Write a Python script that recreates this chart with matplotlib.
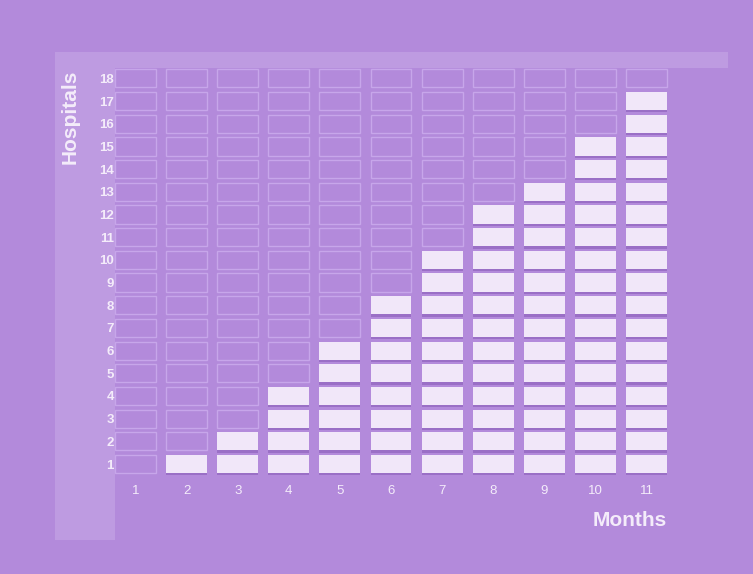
import matplotlib.pyplot as plt
from matplotlib.patches import Rectangle
import numpy as np

# data
months = [1, 2, 3, 4, 5, 6, 7, 8, 9, 10, 11]
hospitals = [0, 1, 2, 4, 6, 8, 10, 12, 13, 15, 17]
rows = list(range(1, 19))
month_labels = [str(m) for m in months]
row_labels = [str(r) for r in rows]

BG = '#B38ADB'
STRIP = '#BE9BE1'
FILLED = '#F1E7F9'
SHADOW = '#9A6FC6'
EMPTY_EDGE = '#C7A6EA'
TEXT = '#F4ECFA'

W, H = 753, 574
fig = plt.figure(figsize=(W / 100, H / 100), dpi=100, facecolor=BG)

# lighter panel strips behind the chart
fig.add_artist(Rectangle((55 / W, 1 - 540 / H), 60 / W, 488 / H,
                         transform=fig.transFigure, color=STRIP, lw=0, zorder=0))
fig.add_artist(Rectangle((55 / W, 1 - 68 / H), 673 / W, 16 / H,
                         transform=fig.transFigure, color=STRIP, lw=0, zorder=0))

ax = fig.add_axes([0.1392, 0.1679, 0.7601, 0.7192])
ax.set_facecolor('none')

cell_w = 0.80
cell_h = 0.80
counts = np.array(hospitals)
for r in rows:
    filled = counts >= r
    x_f = np.array(months)[filled]
    x_e = np.array(months)[~filled]
    # empty slots: outline only
    ax.bar(x_e, cell_h, bottom=r - cell_h / 2, width=cell_w,
           facecolor='none', edgecolor=EMPTY_EDGE, linewidth=1.0, zorder=2)
    # filled slots with a small shadow underneath
    ax.bar(x_f, cell_h, bottom=r - cell_h / 2 - 0.1, width=cell_w,
           color=SHADOW, linewidth=0, zorder=2)
    ax.bar(x_f, cell_h, bottom=r - cell_h / 2, width=cell_w,
           color=FILLED, linewidth=0, zorder=3)

ax.set_xlim(0.4, 11.6)
ax.set_ylim(0.4, 18.6)
ax.set_xticks(months)
ax.set_xticklabels(month_labels)
ax.set_yticks(rows)
ax.set_yticklabels(row_labels)
ax.tick_params(axis='y', length=0, pad=-6.6, labelsize=9.5, labelcolor=TEXT)
ax.tick_params(axis='x', length=0, pad=5, labelsize=9.5, labelcolor=TEXT)
for lbl in ax.get_yticklabels():
    lbl.set_fontweight('bold')
    lbl.set_family('Liberation Sans')
for lbl in ax.get_xticklabels():
    lbl.set_family('Liberation Sans')
for s in ax.spines.values():
    s.set_visible(False)

fig.text(70 / W, 1 - 117 / H, 'Hospitals', rotation=90, ha='center', va='center',
         fontsize=15, fontweight='bold', color=TEXT, family='Liberation Sans')
fig.text(667 / W, 1 - 521 / H, 'Months', ha='right', va='center',
         fontsize=15, fontweight='bold', color=TEXT, family='Liberation Sans')

fig.savefig('out.png', dpi=100, facecolor=BG)
